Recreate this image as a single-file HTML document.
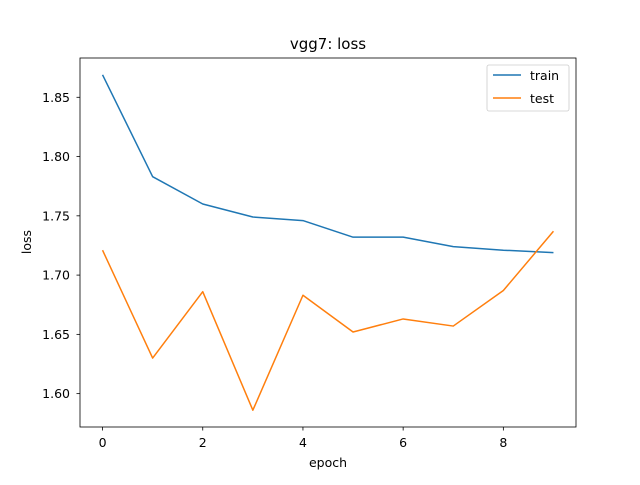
<!DOCTYPE html>
<html><head><meta charset="utf-8"><style>
body{margin:0;background:#fff}
svg text{font-family:"DejaVu Sans","Liberation Sans",sans-serif;fill:#000}
</style></head><body>
<svg id="c" width="640" height="480" xmlns="http://www.w3.org/2000/svg">
<rect width="640" height="480" fill="#fff"/>
<text x="328" y="49" font-size="15" text-anchor="middle">vgg7: loss</text>
<g id="plot"></g>
<rect x="80" y="58" width="496" height="369" fill="none" stroke="#000" stroke-width="0.8"/>
<text x="328" y="467" font-size="12.5" text-anchor="middle">epoch</text>
<text x="31" y="242" font-size="12.5" text-anchor="middle" transform="rotate(-90 31 242)">loss</text>
<g>
<rect x="487" y="65" width="82" height="46" rx="2" fill="#fff" stroke="#ccc" stroke-width="0.8"/>
<line x1="493" y1="75" x2="521" y2="75" stroke="#1f77b4" stroke-width="1.5"/>
<text x="530" y="80" font-size="12.5">train</text>
<line x1="493" y1="98" x2="521" y2="98" stroke="#ff7f0e" stroke-width="1.5"/>
<text x="530" y="103" font-size="12.5">test</text>
</g>
</svg>
<script>
const epochs=[0,1,2,3,4,5,6,7,8,9];
const trainLoss=[1.869,1.783,1.760,1.749,1.746,1.732,1.732,1.724,1.721,1.719];
const testLoss=[1.721,1.630,1.686,1.586,1.683,1.652,1.663,1.657,1.687,1.737];
const xTicks=[0,2,4,6,8];
const yTicks=[1.60,1.65,1.70,1.75,1.80,1.85];
const NS="http://www.w3.org/2000/svg";
const L=80,R=576,T=58,B=427;
const all=trainLoss.concat(testLoss);
const mn=Math.min(...all),mx=Math.max(...all),pad=(mx-mn)*0.05;
const y0=mn-pad,y1=mx+pad;
const xmn=Math.min(...epochs),xmx=Math.max(...epochs),xp=(xmx-xmn)*0.05;
const sx=v=>L+(v-(xmn-xp))/((xmx+xp)-(xmn-xp))*(R-L);
const sy=v=>B-(v-y0)/(y1-y0)*(B-T);
const g=document.getElementById('plot');
function mk(t,a){const e=document.createElementNS(NS,t);for(const k in a)e.setAttribute(k,a[k]);g.appendChild(e);return e;}
xTicks.forEach(t=>{const x=sx(t);
const l=mk('line',{x1:x,x2:x,y1:B,y2:B+3.5,stroke:'#000','stroke-width':0.8});


const tx=mk('text',{x:x,y:B+20,'font-size':12.5,'text-anchor':'middle'});tx.textContent=t;

});
yTicks.forEach(t=>{const y=sy(t);
const l=mk('line',{x1:L-3.5,x2:L,y1:y,y2:y,stroke:'#000','stroke-width':0.8});


const tx=mk('text',{x:L-10,y:y+4.5,'font-size':12.5,'text-anchor':'end'});tx.textContent=t.toFixed(2);

});
function line(d,c,n){const p=mk('polyline',{points:d.map((v,i)=>sx(epochs[i])+','+sy(v)).join(' '),fill:'none',stroke:c,'stroke-width':1.5,'stroke-linejoin':'round'});

}
line(trainLoss,'#1f77b4','train-line');
line(testLoss,'#ff7f0e','test-line');
</script>
</body></html>
